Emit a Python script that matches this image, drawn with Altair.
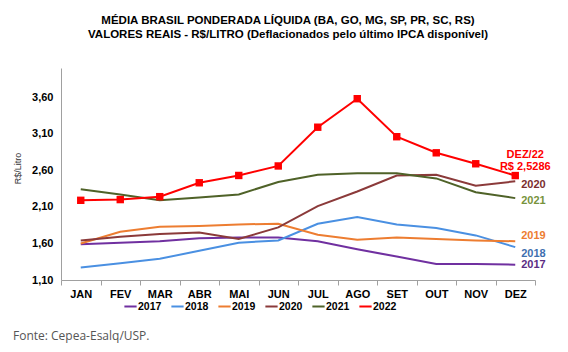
import altair as alt
import pandas as pd

months = ["JAN", "FEV", "MAR", "ABR", "MAI", "JUN", "JUL", "AGO", "SET", "OUT", "NOV", "DEZ"]
years = ["2017", "2018", "2019", "2020", "2021", "2022"]
v2017 = [1.59, 1.61, 1.63, 1.67, 1.68, 1.68, 1.63, 1.52, 1.42, 1.32, 1.32, 1.31]
v2018 = [1.27, 1.33, 1.39, 1.50, 1.61, 1.64, 1.87, 1.96, 1.86, 1.81, 1.71, 1.55]
v2019 = [1.60, 1.76, 1.83, 1.84, 1.86, 1.87, 1.72, 1.65, 1.68, 1.66, 1.64, 1.63]
v2020 = [1.64, 1.69, 1.73, 1.75, 1.66, 1.82, 2.11, 2.31, 2.53, 2.54, 2.39, 2.45]
v2021 = [2.34, 2.27, 2.19, 2.23, 2.27, 2.44, 2.54, 2.56, 2.56, 2.49, 2.30, 2.22]
v2022 = [2.19, 2.20, 2.24, 2.43, 2.53, 2.66, 3.19, 3.58, 3.06, 2.84, 2.69, 2.5286]
colors = ["#7030A0", "#4A90E2", "#ED7D31", "#8B3A3A", "#4F6228", "#FF0000"]
label_colors = ["#5B2C83", "#3F6FAF", "#ED7D31", "#7B2E2E", "#77933C", "#FF0000"]
y_ticks = [1.10, 1.60, 2.10, 2.60, 3.10, 3.60]
last_label = ["DEZ/22", "R$ 2,5286"]

series = [v2017, v2018, v2019, v2020, v2021, v2022]
rows = []
for yr, vals in zip(years, series):
    for m, v in zip(months, vals):
        rows.append({"mes": m, "ano": yr, "valor": v})
df = pd.DataFrame(rows)

FONT = "Liberation Sans"

x_enc = alt.X("mes:N", sort=months, bandPosition=0.5,
              scale=alt.Scale(type="band", domain=months, paddingInner=0, paddingOuter=0),
              axis=alt.Axis(title=None, tickBand="extent", tickSize=5, tickColor="#a0a0a0",
                            domainColor="#a0a0a0", labelAngle=0, labelFont=FONT,
                            labelFontWeight="bold", labelFontSize=11, labelColor="#000000",
                            labelPadding=3, grid=False))
y_enc = alt.Y("valor:Q",
              scale=alt.Scale(domain=[1.10, 4.0], nice=False, zero=False),
              axis=alt.Axis(title="R$/Litro", values=y_ticks, ticks=False, grid=False,
                            domainColor="#a0a0a0", labelFont=FONT, labelFontWeight="bold",
                            labelFontSize=11, labelColor="#000000", labelPadding=8,
                            labelExpr="replace(format(datum.value, '.2f'), '.', ',')",
                            titleFont=FONT, titleFontSize=9, titleFontWeight="normal",
                            titleColor="#333333", titleX=-39, titleY=100, titleAngle=270))

color_enc = alt.Color("ano:N", scale=alt.Scale(domain=years, range=colors),
                      legend=alt.Legend(title=None, orient="none", legendX=62, legendY=231,
                                        direction="horizontal", columns=6, symbolType="stroke",
                                        symbolStrokeWidth=2, symbolSize=150,
                                        labelFont=FONT, labelFontWeight="bold", labelFontSize=10.5,
                                        labelColor="#000000", labelOffset=0, columnPadding=5))

lines = alt.Chart(df).mark_line(strokeWidth=2).encode(x=x_enc, y=y_enc, color=color_enc)
points = alt.Chart(df).transform_filter(alt.datum.ano == "2022").mark_point(
    shape="square", filled=True, size=55, opacity=1, color="#FF0000").encode(x=x_enc, y=y_enc)

last_df = df[df["mes"] == "DEZ"]
label_dy = {"2017": 0, "2018": 7, "2019": -5, "2020": 4, "2021": 3}
label_layers = []
for i, yr in enumerate(years[:5]):
    label_layers.append(
        alt.Chart(last_df[last_df["ano"] == yr]).mark_text(
            align="left", baseline="middle", dx=6, dy=label_dy[yr], font=FONT,
            fontSize=11, fontWeight="bold", color=label_colors[i]
        ).encode(x=x_enc, y=y_enc, text="ano:N")
    )

dez22 = last_df[last_df["ano"] == "2022"].copy()
for j, (txt, dy) in enumerate(zip(last_label, [-21, -9])):
    d = dez22.copy()
    d["txt"] = txt
    label_layers.append(
        alt.Chart(d).mark_text(align="center", baseline="middle", dx=10, dy=dy, font=FONT,
                               fontSize=11, fontWeight="bold", color="#FF0000")
        .encode(x=x_enc, y=y_enc, text="txt:N")
    )

source = alt.Chart(pd.DataFrame({"t": ["Fonte: Cepea-Esalq/USP."]})).mark_text(
    align="left", baseline="middle", font="Open Sans", fontSize=12, color="#555555"
).encode(x=alt.value(-48), y=alt.value(268), text="t:N")

chart = alt.layer(lines, points, *label_layers, source).properties(
    width=474, height=212,
    autosize=alt.AutoSizeParams(type="none"),
    padding={"left": 61, "top": 68, "right": 33, "bottom": 72},
    background="#ffffff",
    title=alt.TitleParams(
        text=["MÉDIA BRASIL PONDERADA LÍQUIDA (BA, GO, MG, SP, PR, SC, RS)",
              "VALORES REAIS - R$/LITRO (Deflacionados pelo último IPCA disponível)"],
        font=FONT, fontSize=11.5, fontWeight="bold", color="#000000",
        anchor="middle", dx=-10, offset=28, lineHeight=14),
).configure_view(stroke=None)

chart.save("out.html", embed_options={"renderer": "svg", "actions": False})
